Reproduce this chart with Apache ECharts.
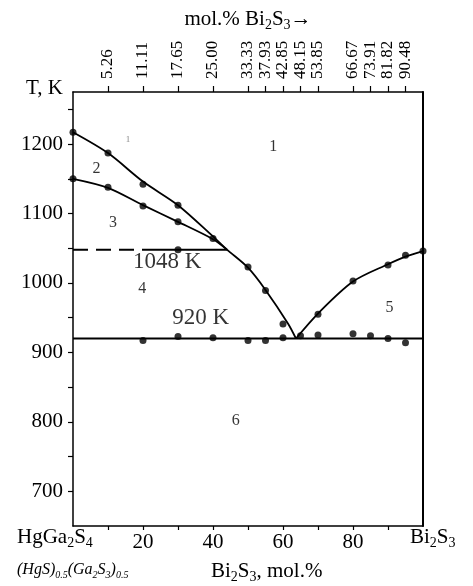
<!DOCTYPE html>
<html>
<head>
<meta charset="utf-8">
<script src="https://cdn.jsdelivr.net/npm/echarts@6/dist/echarts.min.js"></script>
<style>
  html, body { margin: 0; padding: 0; background: #fff; }
  #chart { width: 473px; height: 586px; }
</style>
</head>
<body>
<div id="chart"></div>
<script>
// HgGa2S4 – Bi2S3 phase diagram: composition (mol.% Bi2S3) vs temperature (K)

// measured thermal effects
const upperLiquidusPts = [[0, 1217], [10, 1187], [20, 1142], [30, 1112], [50, 1023], [55, 989], [60, 941]];
const lowerLiquidusPts = [[0, 1150], [10, 1138], [20, 1111], [30, 1088], [40, 1064]];
const rightLiquidusPts = [[70, 955], [80, 1003], [90, 1026], [95, 1040], [100, 1046]];
const solidusPts = [[20, 917], [30, 923], [40, 921], [50, 917], [55, 917], [60, 921], [65, 924],
                    [70, 925], [80, 927], [85, 924], [90, 920], [95, 914]];
const peritecticPts = [[30, 1048]];

// phase boundaries
const upperLiquidusCurve = [[0, 1217], [10, 1187], [20, 1146], [30, 1112], [40, 1067], [44, 1048],
                            [50, 1022], [55, 990], [61.5, 941], [63.7, 920]];
const lowerLiquidusCurve = [[0, 1150], [10, 1137], [20, 1112], [30, 1088], [40, 1063], [44, 1048]];
const rightLiquidusCurve = [[63.7, 920], [70, 956], [80, 1002], [90, 1027], [95, 1038], [100, 1046]];
const eutecticT = 920;
const peritecticT = 1048;
const eutecticSpan = [0, 100];
const peritecticSolidSpan = [22, 44];
const peritecticDashSpan = [0, 22];

// axes
const bottomTickValues = [10, 20, 30, 40, 50, 60, 70, 80, 90];
const bottomLabelValues = [20, 40, 60, 80];
const topTickValues = [10, 20, 30, 40, 50, 55, 60, 65, 70, 80, 85, 90, 95];
const topTickLabels = ['5.26', '11.11', '17.65', '25.00', '33.33', '37.93', '42.85', '48.15',
                       '53.85', '66.67', '73.91', '81.82', '90.48'];
const yTickValues = [700, 750, 800, 850, 900, 950, 1000, 1050, 1100, 1150, 1200, 1250];
const yLabelValues = [700, 800, 900, 1000, 1100, 1200];

// phase field numbers
const fieldNames = ['1', '1', '2', '3', '4', '5', '6'];
const fieldX = [15.7, 57.2, 6.7, 11.4, 19.8, 90.4, 46.5];
const fieldT = [1206, 1196, 1165, 1086, 992, 964, 801];
const fieldSizes = [9, 16, 16, 16, 16, 16, 16];

const FONT = 'Liberation Serif';
const BLACK = '#000';

const subRich = {
  n: { fontFamily: FONT, fontSize: 21, color: BLACK, lineHeight: 24, padding: [0, 0, 2, 0], verticalAlign: 'bottom' },
  s: { fontFamily: FONT, fontSize: 14, color: BLACK, lineHeight: 16, verticalAlign: 'bottom' }
};
const italicRich = {
  n: { fontFamily: FONT, fontStyle: 'italic', fontSize: 16, color: BLACK, lineHeight: 18, padding: [0, 0, 2, 0], verticalAlign: 'bottom' },
  s: { fontFamily: FONT, fontStyle: 'italic', fontSize: 10, color: BLACK, lineHeight: 12, verticalAlign: 'bottom' }
};

function curve(data, width) {
  return {
    type: 'line', data: data, smooth: 0.3, showSymbol: false, silent: true,
    lineStyle: { color: BLACK, width: width || 1.8 }, z: 3
  };
}
function dots(data) {
  return {
    type: 'scatter', data: data, symbol: 'circle', symbolSize: 7, clip: false, silent: true,
    itemStyle: { color: BLACK }, z: 5
  };
}
function hline(span, T, type) {
  return {
    type: 'line', data: [[span[0], T], [span[1], T]], showSymbol: false, silent: true,
    lineStyle: { color: BLACK, width: 2, type: type || 'solid' }, z: 3
  };
}

const fieldData = fieldNames.map((n, i) => ({
  name: n, value: [fieldX[i], fieldT[i]],
  label: { fontSize: fieldSizes[i], color: fieldSizes[i] < 12 ? '#666' : BLACK }
}));

const chart = echarts.init(document.getElementById('chart'), null, { renderer: 'canvas' });

chart.setOption({
  backgroundColor: '#fff',
  animation: false,
  grid: { left: 73, right: 50, top: 92, bottom: 60, containLabel: false, outerBoundsMode: 'none' },
  xAxis: [
    {
      type: 'value', position: 'bottom', min: 0, max: 100,
      axisLine: { show: true, onZero: false, lineStyle: { color: BLACK, width: 1.5 } },
      axisTick: { show: true, customValues: bottomTickValues, length: 4, lineStyle: { color: BLACK, width: 1.2 } },
      axisLabel: { customValues: bottomLabelValues, fontFamily: FONT, fontSize: 21, color: BLACK, margin: 6 },
      splitLine: { show: false }
    },
    {
      type: 'value', position: 'top', min: 0, max: 100,
      axisLine: { show: true, onZero: false, lineStyle: { color: BLACK, width: 1.5 } },
      axisTick: { show: true, customValues: topTickValues, length: 6, lineStyle: { color: BLACK, width: 1.2 } },
      axisLabel: {
        customValues: topTickValues, rotate: -90, fontFamily: FONT, fontSize: 17, color: BLACK, margin: 13,
        formatter: v => topTickLabels[topTickValues.indexOf(v)] || ''
      },
      splitLine: { show: false },
      name: '{n|mol.% Bi}{s|2}{n|S}{s|3}{n|→}',
      nameLocation: 'middle', nameGap: 60,
      nameTextStyle: { rich: subRich }
    }
  ],
  yAxis: [
    {
      type: 'value', position: 'left', min: 650, max: 1275,
      axisLine: { show: true, onZero: false, lineStyle: { color: BLACK, width: 1.5 } },
      axisTick: { show: true, customValues: yTickValues, length: 5, lineStyle: { color: BLACK, width: 1.2 } },
      axisLabel: {
        customValues: yLabelValues, fontFamily: FONT, fontSize: 21, color: BLACK, margin: 10,
        formatter: v => String(v)
      },
      splitLine: { show: false },
      name: 'T, K', nameLocation: 'end', nameGap: 4,
      nameTextStyle: { fontFamily: FONT, fontSize: 21, color: BLACK, align: 'right', verticalAlign: 'middle', padding: [0, 10, 0, 0] }
    },
    {
      type: 'value', position: 'right', min: 650, max: 1275,
      axisLine: { show: true, onZero: false, lineStyle: { color: BLACK, width: 2 } },
      axisTick: { show: false }, axisLabel: { show: false }, splitLine: { show: false }
    }
  ],
  graphic: [
    { type: 'text', left: 17, top: 527, style: { text: '{n|HgGa}{s|2}{n|S}{s|4}', rich: subRich } },
    { type: 'text', left: 410, top: 527, style: { text: '{n|Bi}{s|2}{n|S}{s|3}', rich: subRich } },
    { type: 'text', left: 17, top: 562, style: { text: '{n|(HgS)}{s|0.5}{n|(Ga}{s|2}{n|S}{s|3}{n|)}{s|0.5}', rich: italicRich } },
    { type: 'text', left: 211, top: 561, style: { text: '{n|Bi}{s|2}{n|S}{s|3}{n|, mol.%}', rich: subRich } }
  ],
  series: [
    curve(upperLiquidusCurve),
    curve(lowerLiquidusCurve),
    curve(rightLiquidusCurve),
    hline(eutecticSpan, eutecticT),
    hline(peritecticSolidSpan, peritecticT),
    hline(peritecticDashSpan, peritecticT, [15, 8]),
    dots(upperLiquidusPts),
    dots(lowerLiquidusPts),
    dots(rightLiquidusPts),
    dots(solidusPts),
    dots(peritecticPts),
    {
      type: 'scatter', symbolSize: 0, silent: true, clip: false, z: 6,
      data: fieldData,
      label: { show: true, position: 'inside', formatter: p => p.name, fontFamily: FONT, color: BLACK }
    },
    {
      type: 'scatter', symbolSize: 0, silent: true, clip: false, z: 6,
      data: [
        { name: peritecticT + ' K', value: [26.9, peritecticT - 18] },
        { name: eutecticT + ' K', value: [36.5, eutecticT + 30] }
      ],
      label: { show: true, position: 'inside', formatter: p => p.name, fontFamily: FONT, fontSize: 23, color: BLACK }
    }
  ]
});
</script>
</body>
</html>
